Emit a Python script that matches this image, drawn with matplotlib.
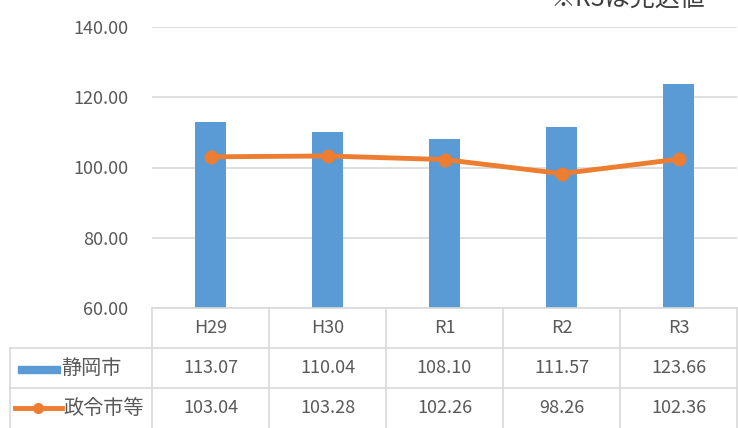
import matplotlib.pyplot as plt
from matplotlib.patches import Rectangle
from matplotlib.lines import Line2D

plt.rcParams['font.family'] = ['Noto Sans CJK JP', 'DejaVu Sans']

# データ
years = ["H29", "H30", "R1", "R2", "R3"]
shizuoka = [113.07, 110.04, 108.10, 111.57, 123.66]
seirei = [103.04, 103.28, 102.26, 98.26, 102.36]
series_names = ["静岡市", "政令市等"]
yticks = [60, 80, 100, 120, 140]
note = "※R3は見込値"

BLUE = "#5B9BD5"
ORANGE = "#ED7D31"
GRID = "#D9D9D9"
TXT = "#595959"

W, H = 738, 428
fig = plt.figure(figsize=(W / 100, H / 100), dpi=100)

x0, x1 = 152 / W, 737 / W
y_bot, y_top = 1 - 308 / H, 1 - 27 / H
ax = fig.add_axes([x0, y_bot, x1 - x0, y_top - y_bot])
xs = list(range(len(years)))

ax.bar(xs, shizuoka, width=0.26, color=BLUE, zorder=2)
ax.plot(xs, seirei, color=ORANGE, lw=3.5, marker="o", ms=9, zorder=3)

ax.set_xlim(-0.5, len(years) - 0.5)
ax.set_ylim(60, 140)
ax.set_yticks(yticks)
ax.set_yticklabels([f"{v:.2f}" for v in yticks], fontsize=13, color=TXT)
ax.tick_params(axis="y", length=0, pad=17)
ax.set_xticks([])
ax.yaxis.grid(True, color=GRID, lw=1.2, zorder=0)
for s in ax.spines.values():
    s.set_visible(False)

# データテーブル
tab = fig.add_axes([x0, 0, x1 - x0, y_bot])
tab.set_xlim(-0.5, len(years) - 0.5)
tab.set_ylim(3, 0)
tab.axis("off")
ux = (737 - 152) / len(years)
kx = lambda px: -0.5 + (px - 152) / ux
left = kx(10)

lk = dict(color=GRID, lw=1.2, clip_on=False)
tab.plot([-0.5, len(years) - 0.5], [0, 0], **lk)
for r in (1, 2):
    tab.plot([left, len(years) - 0.5], [r, r], **lk)
tab.plot([left, left], [1, 3], **lk)
for i in range(len(years) + 1):
    tab.plot([i - 0.5, i - 0.5], [0, 3], **lk)

for i, y in enumerate(years):
    tab.text(i, 0.5, y, ha="center", va="center", fontsize=13, color=TXT)
    tab.text(i, 1.5, f"{shizuoka[i]:.2f}", ha="center", va="center", fontsize=13, color=TXT)
    tab.text(i, 2.5, f"{seirei[i]:.2f}", ha="center", va="center", fontsize=13, color=TXT)

# 凡例キー
tab.add_patch(Rectangle((kx(18), 1.45), kx(60) - kx(18), 0.18, color=BLUE, clip_on=False))
tab.add_line(Line2D([kx(15), kx(62)], [2.5, 2.5], color=ORANGE, lw=3.5, clip_on=False))
tab.add_line(Line2D([kx(38)], [2.5], color=ORANGE, marker="o", ms=7, clip_on=False))
tab.text(kx(61), 1.5, series_names[0], ha="left", va="center", fontsize=14.5, color=TXT)
tab.text(kx(63), 2.5, series_names[1], ha="left", va="center", fontsize=14.5, color=TXT)

# 上端で切れている注記
fig.text(628 / W, 1 - 6 / H, note, ha="center", va="baseline", fontsize=18, color="#404040")

fig.savefig("out.png", dpi=100)
